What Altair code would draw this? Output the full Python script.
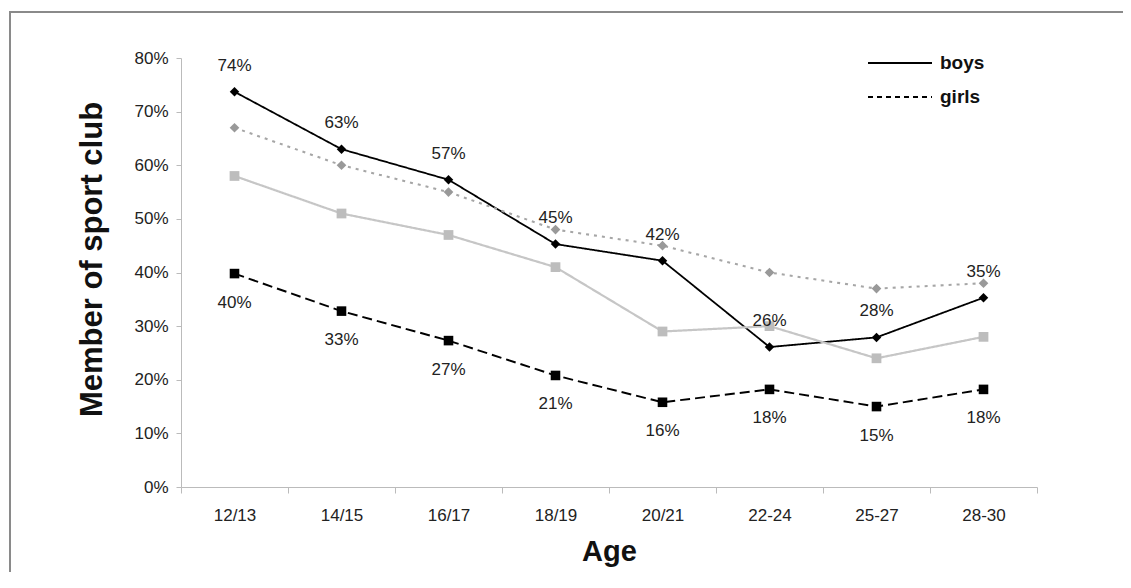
import altair as alt
import pandas as pd

ages = ["12/13", "14/15", "16/17", "18/19", "20/21", "22-24", "25-27", "28-30"]
boys = [0.737, 0.630, 0.573, 0.453, 0.422, 0.261, 0.279, 0.353]
girls = [0.398, 0.328, 0.273, 0.208, 0.158, 0.182, 0.150, 0.182]
boys_cmp = [0.67, 0.60, 0.55, 0.48, 0.45, 0.40, 0.37, 0.38]
girls_cmp = [0.58, 0.51, 0.47, 0.41, 0.29, 0.30, 0.24, 0.28]
y_ticks = [0, 0.1, 0.2, 0.3, 0.4, 0.5, 0.6, 0.7, 0.8]

series_names = ["boys", "girls", "boys (comparison)", "girls (comparison)"]
series_values = [boys, girls, boys_cmp, girls_cmp]

rows = []
for name, vals in zip(series_names, series_values):
    for a, v in zip(ages, vals):
        rows.append({"age": a, "series": name, "value": v})
df = pd.DataFrame(rows)

FONT = "Liberation Sans"

x_enc = alt.X(
    "age:N",
    sort=ages,
    bandPosition=0.5,
    scale=alt.Scale(type="band", domain=ages, paddingInner=0, paddingOuter=0),
    axis=alt.Axis(
        title="Age", tickBand="extent", labelAngle=0, labelFont=FONT,
        labelFontSize=17, labelColor="#222", labelPadding=14, tickSize=6,
        tickColor="#bbb", domainColor="#bbb", grid=False,
        titleFont=FONT, titleFontSize=29, titleFontWeight="bold",
        titleColor="#111", titleX=428, titleY=64, titleBaseline="middle",
    ),
)
y_enc = alt.Y(
    "value:Q",
    scale=alt.Scale(domain=[0, 0.8], nice=False, zero=True),
    axis=alt.Axis(
        values=y_ticks, format=".0%", labelFont=FONT, labelFontSize=17,
        labelColor="#222", labelPadding=8, tickSize=5, tickColor="#bbb",
        domainColor="#bbb", grid=False, title="Member of sport club",
        titleFont=FONT, titleFontSize=31, titleFontWeight="bold",
        titleColor="#111", titleX=-89, titleY=201, titleAngle=-90,
        titleAlign="center", titleBaseline="middle",
    ),
)

base = alt.Chart(df)

lines = base.mark_line().encode(
    x=x_enc, y=y_enc,
    color=alt.Color("series:N", scale=alt.Scale(domain=series_names, range=["#000000", "#000000", "#a6a6a6", "#c6c6c6"]), legend=None),
    strokeDash=alt.StrokeDash("series:N", scale=alt.Scale(domain=series_names, range=[[1, 0], [10, 5], [3, 5], [1, 0]]), legend=None),
    strokeWidth=alt.StrokeWidth("series:N", scale=alt.Scale(domain=series_names, range=[1.8, 2.2, 2.6, 1.8]), legend=None),
)

points = base.mark_point(filled=True, opacity=1).encode(
    x=x_enc, y=y_enc,
    fill=alt.Fill("series:N", scale=alt.Scale(domain=series_names, range=["#000000", "#000000", "#999999", "#bdbdbd"]), legend=None),
    shape=alt.Shape("series:N", scale=alt.Scale(domain=series_names, range=["diamond", "square", "diamond", "square"]), legend=None),
    size=alt.Size("series:N", scale=alt.Scale(domain=series_names, range=[90, 95, 75, 95]), legend=None),
)

boys_text = base.transform_filter(alt.datum.series == "boys").mark_text(
    dy=-26, font=FONT, fontSize=17, color="#222"
).encode(x=x_enc, y=y_enc, text=alt.Text("value:Q", format=".0%"))

girls_text = base.transform_filter(alt.datum.series == "girls").mark_text(
    dy=29, font=FONT, fontSize=17, color="#222"
).encode(x=x_enc, y=y_enc, text=alt.Text("value:Q", format=".0%"))

one = pd.DataFrame({"k": [0]})
frame = alt.Chart(one).mark_rect(fill=None, stroke="#8a8a8a", strokeWidth=2).encode(
    x=alt.value(-171), x2=alt.value(3000), y=alt.value(-46), y2=alt.value(3000)
)

leg_boys_line = alt.Chart(one).mark_rule(color="#000", strokeWidth=1.8).encode(
    x=alt.value(687), x2=alt.value(751), y=alt.value(5)
)
leg_girls_line = alt.Chart(one).mark_rule(color="#000", strokeWidth=1.8, strokeDash=[5, 4]).encode(
    x=alt.value(687), x2=alt.value(751), y=alt.value(39)
)
leg_boys_text = alt.Chart(one).mark_text(align="left", baseline="middle", font=FONT, fontSize=19, fontWeight="bold", color="#111").encode(
    x=alt.value(759), y=alt.value(5), text=alt.value("boys")
)
leg_girls_text = alt.Chart(one).mark_text(align="left", baseline="middle", font=FONT, fontSize=19, fontWeight="bold", color="#111").encode(
    x=alt.value(759), y=alt.value(39), text=alt.value("girls")
)

chart = alt.layer(
    frame, lines, points, boys_text, girls_text,
    leg_boys_line, leg_girls_line, leg_boys_text, leg_girls_text,
).properties(
    width=856, height=429,
    autosize=alt.AutoSizeParams(type="none"),
    padding={"left": 173, "top": 50, "right": 86, "bottom": 85},
    background="white",
).configure_view(stroke=None)

chart.save("out.html", embed_options={"renderer": "svg", "actions": False})
